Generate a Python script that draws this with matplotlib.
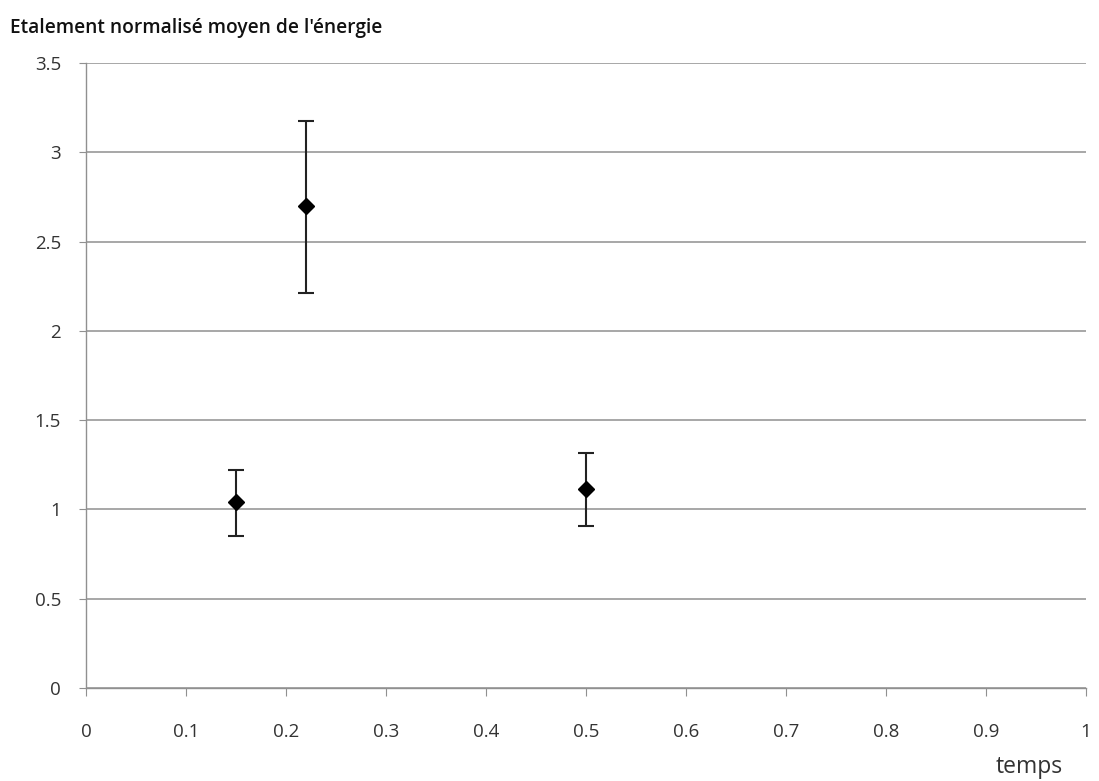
import matplotlib
matplotlib.use("Agg")
import matplotlib.pyplot as plt

temps = [0.15, 0.22, 0.50]
etalement = [1.04, 2.70, 1.115]
erreur_haut = [0.18, 0.475, 0.20]
erreur_bas = [0.19, 0.49, 0.205]

x_ticks = [0, 0.1, 0.2, 0.3, 0.4, 0.5, 0.6, 0.7, 0.8, 0.9, 1]
y_ticks = [0, 0.5, 1, 1.5, 2, 2.5, 3, 3.5]

plt.rcParams['font.family'] = ['Open Sans', 'DejaVu Sans']

fig = plt.figure(figsize=(10.99, 7.81), dpi=100)
ax = fig.add_axes([86/1099, 1-688/781, 1000/1099, 625/781])

ax.errorbar(temps, etalement, yerr=[erreur_bas, erreur_haut], fmt='D', color='black',
            ecolor='#222222', elinewidth=1.5, capsize=6, capthick=1.5, markersize=8, zorder=3)

ax.set_xlim(0, 1)
ax.set_ylim(0, 3.5)
ax.set_xticks(x_ticks)
ax.set_xticklabels([f"{v:g}" for v in x_ticks])
ax.set_yticks(y_ticks)
ax.set_yticklabels([f"{v:g}" for v in y_ticks])

ax.grid(axis='y', color='#a0a0a0', linewidth=1.3)
ax.set_axisbelow(True)
for s in ['top', 'right']:
    ax.spines[s].set_visible(False)
for s in ['left', 'bottom']:
    ax.spines[s].set_color('#909090')
    ax.spines[s].set_linewidth(1.0)

ax.tick_params(axis='x', direction='out', length=6, color='#909090', pad=19, labelsize=13.5, labelcolor='#333333')
ax.tick_params(axis='y', direction='out', length=5, color='#909090', pad=13, labelsize=13.5, labelcolor='#333333')

fig.text(10/1099, 1-28/781, "Etalement normalisé moyen de l'énergie", fontsize=13.8, fontweight='semibold',
         ha='left', va='center', color='#111111')
fig.text(1063/1099, 1-767/781, "temps", fontsize=16.5, ha='right', va='center', color='#333333')

fig.savefig("out.png", dpi=100)
